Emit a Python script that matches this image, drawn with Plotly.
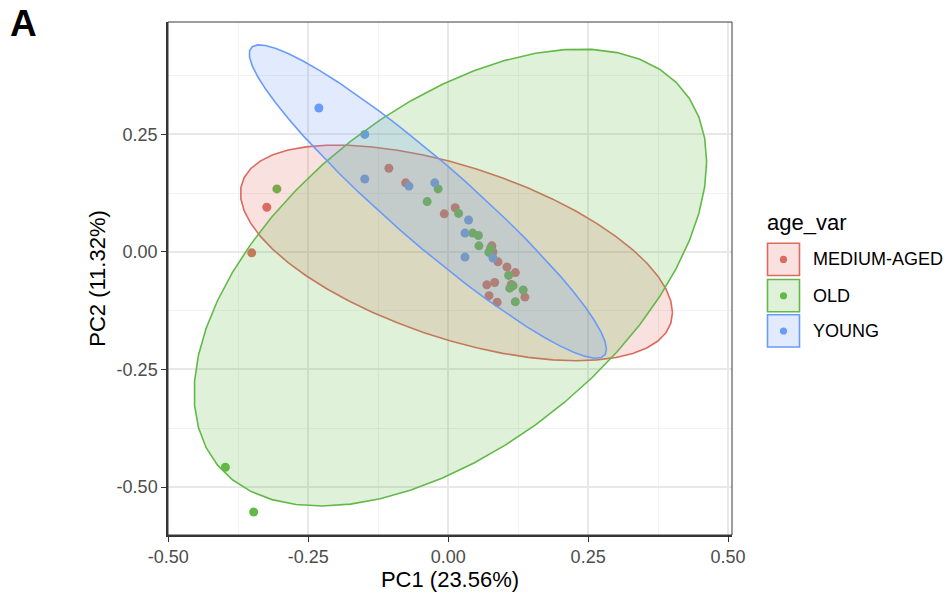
import numpy as np
import plotly.graph_objects as go

# ---------------- data ----------------
groups = ["MEDIUM-AGED", "OLD", "YOUNG"]
colors = ["#DB6B61", "#63B947", "#6B9BF7"]

medium_pc1 = [-0.076, 0.0125, -0.007, 0.078, 0.080, 0.089, 0.105, 0.120, 0.069,
              0.083, 0.113, 0.073, 0.0875, 0.137, -0.106, -0.324, -0.351]
medium_pc2 = [0.147, 0.094, 0.081, 0.013, 0.000, -0.021, -0.032, -0.044, -0.070,
              -0.065, -0.069, -0.093, -0.107, -0.096, 0.178, 0.095, -0.002]

old_pc1 = [-0.018, -0.0375, 0.0186, 0.0436, 0.054, 0.055, 0.0757, 0.0727, 0.108,
           0.116, 0.110, 0.134, 0.120, -0.306, -0.398, -0.3475]
old_pc2 = [0.134, 0.107, 0.082, 0.040, 0.035, 0.013, 0.008, -0.001, -0.050,
           -0.072, -0.077, -0.081, -0.106, 0.134, -0.458, -0.553]

young_pc1 = [-0.070, -0.024, 0.0364, 0.030, 0.030, 0.080, -0.231, -0.149, -0.149]
young_pc2 = [0.140, 0.147, 0.068, 0.040, -0.011, -0.013, 0.306, 0.250, 0.155]

# 95% ellipses (centre, half-extent in x / y, correlation) per group
ell_cx = [0.0148, 0.0039, -0.0363]
ell_cy = [-0.002, -0.0545, 0.1072]
ell_hw = [0.3859, 0.4578, 0.3191]
ell_hh = [0.2293, 0.4860, 0.3333]
ell_r = [-0.554, 0.507, -0.943]

x_ticks = [-0.5, -0.25, 0.0, 0.25, 0.5]
x_ticktext = ["-0.50", "-0.25", "0.00", "0.25", "0.50"]
y_ticks = [-0.5, -0.25, 0.0, 0.25]
y_ticktext = ["-0.50", "-0.25", "0.00", "0.25"]
minor_vals = [-0.375, -0.125, 0.125, 0.375]

pcs = [(medium_pc1, medium_pc2), (old_pc1, old_pc2), (young_pc1, young_pc2)]

FONT = "Liberation Sans, Arial, Helvetica, sans-serif"


def rgba(hexcol, a):
    h = hexcol.lstrip("#")
    r, g, b = int(h[0:2], 16), int(h[2:4], 16), int(h[4:6], 16)
    return f"rgba({r},{g},{b},{a})"


fig = go.Figure()

# points first (ellipses drawn over them, like ggplot layer order)
for g, col, (px, py) in zip(groups, colors, pcs):
    fig.add_trace(go.Scatter(x=px, y=py, mode="markers", name=g,
                             marker=dict(color=col, size=9, line=dict(width=0)),
                             showlegend=False, hoverinfo="skip"))

t = np.linspace(0, 2 * np.pi, 52)
for i, (g, col) in enumerate(zip(groups, colors)):
    r = ell_r[i]
    ex = ell_cx[i] + ell_hw[i] * np.cos(t)
    ey = ell_cy[i] + ell_hh[i] * (r * np.cos(t) + np.sqrt(1 - r * r) * np.sin(t))
    fig.add_trace(go.Scatter(x=ex, y=ey, mode="lines", fill="toself",
                             fillcolor=rgba(col, 0.2),
                             line=dict(color=col, width=1.6),
                             showlegend=False, hoverinfo="skip"))

W, H = 948, 603
ML, MR, MT, MB = 168, 216, 22, 67.5
PW, PH = W - ML - MR, H - MT - MB


def pxx(p):
    return (p - ML) / PW


def pxy(p):
    return (H - MB - p) / PH


shapes = [dict(type="rect", xref="paper", yref="paper", x0=0, x1=1, y0=0, y1=1,
               line=dict(color="#3a3a3a", width=1), fillcolor="rgba(0,0,0,0)",
               layer="above")]
annotations = []

# manual legend
annotations.append(dict(text="age_var", xref="paper", yref="paper",
                        x=pxx(765), y=pxy(223), xanchor="left", yanchor="middle",
                        showarrow=False, font=dict(size=22, color="black", family=FONT)))
box_tops = [242.7, 279.0, 314.3]
for g, col, top in zip(groups, colors, box_tops):
    shapes.append(dict(type="rect", xref="paper", yref="paper",
                       x0=pxx(767.5), x1=pxx(799.5), y0=pxy(top + 33), y1=pxy(top + 0.7),
                       line=dict(color=col, width=1.6), fillcolor=rgba(col, 0.2)))
    cy = top + 17
    shapes.append(dict(type="circle", xref="paper", yref="paper",
                       xsizemode="pixel", ysizemode="pixel",
                       xanchor=pxx(783.5), yanchor=pxy(cy),
                       x0=-3.6, x1=3.6, y0=-3.6, y1=3.6,
                       line=dict(width=0), fillcolor=col))
    annotations.append(dict(text=g, xref="paper", yref="paper",
                            x=pxx(811), y=pxy(cy), xanchor="left", yanchor="middle",
                            showarrow=False,
                            font=dict(size=18, color="black", family=FONT)))

# panel tag
annotations.append(dict(text="<b>A</b>", xref="paper", yref="paper",
                        x=pxx(8), y=pxy(24), xanchor="left", yanchor="middle",
                        showarrow=False, font=dict(size=37, color="black", family=FONT)))

axis_common = dict(
    showgrid=True, gridcolor="#E8E8E8", gridwidth=1.5, zeroline=False,
    ticks="outside", ticklen=5, tickwidth=1.2, tickcolor="#333333",
    showline=True, linecolor="#333333", linewidth=1.5,
    tickfont=dict(size=18, color="#4D4D4D", family=FONT),
    minor=dict(tickvals=minor_vals, showgrid=True, gridcolor="#F2F2F2",
               gridwidth=0.9, ticks=""),
)

fig.update_layout(
    width=W, height=H,
    margin=dict(l=ML, r=MR, t=MT, b=MB),
    paper_bgcolor="white", plot_bgcolor="white",
    showlegend=False,
    font=dict(family=FONT),
    xaxis=dict(range=[-0.5005, 0.507], tickvals=x_ticks, ticktext=x_ticktext,
               title=dict(text="PC1 (23.56%)", standoff=4,
                          font=dict(size=22, color="black", family=FONT)),
               **axis_common),
    yaxis=dict(range=[-0.602, 0.489], tickvals=y_ticks, ticktext=y_ticktext,
               title=dict(text="PC2 (11.32%)", standoff=5,
                          font=dict(size=22, color="black", family=FONT)),
               **axis_common),
    shapes=shapes,
    annotations=annotations,
)

fig.write_html("out.html")
